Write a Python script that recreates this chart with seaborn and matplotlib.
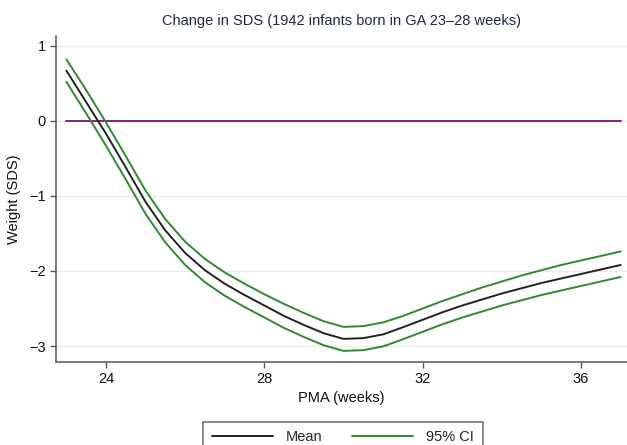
import numpy as np
import pandas as pd
import matplotlib
matplotlib.use('Agg')
import matplotlib.pyplot as plt
import seaborn as sns

# values (half-week steps)
pma = [23.0, 23.5, 24.0, 24.5, 25.0, 25.5, 26.0, 26.5, 27.0, 27.5, 28.0, 28.5, 29.0, 29.5,
       30.0, 30.5, 31.0, 31.5, 32.0, 32.5, 33.0, 33.5, 34.0, 34.5, 35.0, 35.5, 36.0, 36.5, 37.0]
mean_sds = [0.67, 0.25, -0.17, -0.62, -1.08, -1.46, -1.76, -1.99, -2.17, -2.32, -2.46, -2.60,
            -2.72, -2.83, -2.905, -2.895, -2.845, -2.75, -2.65, -2.55, -2.46, -2.38, -2.30, -2.23,
            -2.16, -2.10, -2.04, -1.98, -1.92]
upper_ci = [0.82, 0.41, -0.02, -0.47, -0.93, -1.31, -1.61, -1.84, -2.02, -2.17, -2.31, -2.44,
            -2.56, -2.67, -2.745, -2.735, -2.685, -2.60, -2.50, -2.40, -2.31, -2.22, -2.14, -2.06,
            -1.99, -1.92, -1.86, -1.80, -1.74]
lower_ci = [0.52, 0.10, -0.33, -0.78, -1.24, -1.62, -1.92, -2.15, -2.33, -2.48, -2.62, -2.76,
            -2.88, -2.99, -3.065, -3.055, -3.005, -2.91, -2.81, -2.71, -2.62, -2.54, -2.46, -2.39,
            -2.32, -2.26, -2.20, -2.14, -2.08]
ref_x = [23.0, 37.0]
ref_y = [0.0, 0.0]
x_ticks = [24, 28, 32, 36]
y_ticks = [1, 0, -1, -2, -3]

df = pd.DataFrame({'pma': pma, 'mean': mean_sds, 'upper': upper_ci, 'lower': lower_ci})

sns.set_style('white')
plt.rcParams['font.family'] = ['Liberation Sans', 'DejaVu Sans']
plt.rcParams['axes.unicode_minus'] = True

fig = plt.figure(figsize=(6.27, 4.45), dpi=100)
ax = fig.add_axes([0.0888, 0.187, 0.9112, 0.732])

green = '#2e8b2e'
ax.plot(ref_x, ref_y, color='#8a1f8a', lw=1.4, zorder=2)
sns.lineplot(data=df, x='pma', y='upper', ax=ax, color=green, lw=1.4, label='95% CI', zorder=3)
sns.lineplot(data=df, x='pma', y='lower', ax=ax, color=green, lw=1.4, label='_nolegend_', zorder=3)
sns.lineplot(data=df, x='pma', y='mean', ax=ax, color='#222222', lw=1.4, label='Mean', zorder=4)

ax.set_xlim(22.73, 37.16)
ax.set_ylim(-3.21, 1.13)
ax.set_xticks(x_ticks)
ax.set_yticks(y_ticks)
ax.set_yticklabels(['1', '0', '\u22121', '\u22122', '\u22123'])
ax.yaxis.grid(True, color='#ececec', lw=1)
ax.xaxis.grid(False)
ax.set_axisbelow(True)

for s in ['top', 'right']:
    ax.spines[s].set_visible(False)
for s in ['left', 'bottom']:
    ax.spines[s].set_color('#555555')
    ax.spines[s].set_linewidth(1.1)
ax.tick_params(axis='both', which='major', direction='out', length=4, width=1,
               color='#555555', labelsize=10.5, labelcolor='#111111', pad=3, left=True, bottom=True)

ax.set_xlabel('PMA (weeks)', fontsize=10.5, color='#111111', labelpad=4)
ax.set_ylabel('Weight (SDS)', fontsize=10.5, color='#111111', labelpad=6)
ax.set_title('Change in SDS (1942 infants born in GA 23\u201328 weeks)', fontsize=10.5,
             color='#1c2a48', pad=8)

handles, labels = ax.get_legend_handles_labels()
order = [labels.index('Mean'), labels.index('95% CI')]
ax.get_legend().remove()
leg = fig.legend([handles[i] for i in order], [labels[i] for i in order], ncol=2,
                 loc='upper center', bbox_to_anchor=(0.547, 0.069), frameon=True,
                 fancybox=False, edgecolor='#444444', fontsize=10.5, handlelength=4.2,
                 columnspacing=2.0, borderpad=0.6, handletextpad=0.9)
leg.get_frame().set_linewidth(1.1)

fig.savefig('out.png', dpi=100)
